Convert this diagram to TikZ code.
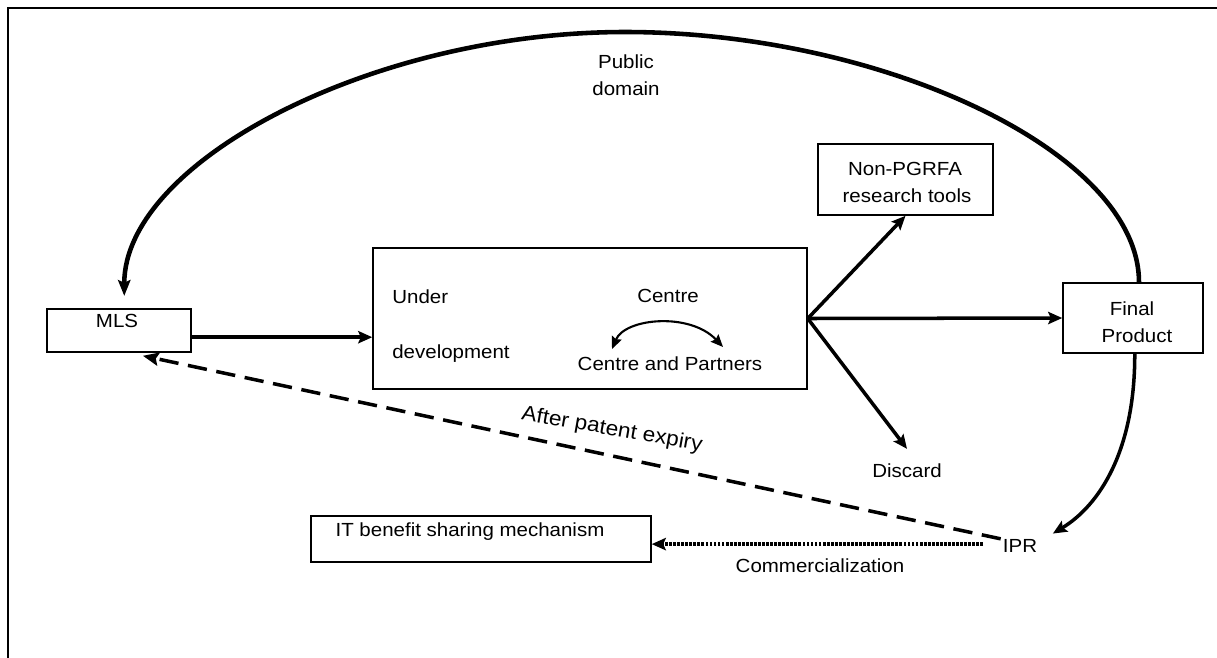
\documentclass[tikz,border=0pt]{standalone}
\usepackage{fontspec}
\setmainfont{Liberation Sans}[FakeStretch=1.08]
\usetikzlibrary{arrows.meta,calc}
\begin{document}
\begin{tikzpicture}[x=0.02cm,y=-0.02cm,
  every node/.style={font=\fontsize{10.8}{13}\selectfont},
  box/.style={draw,line width=0.9pt,inner sep=0pt},
  txt/.style={anchor=base,inner sep=0pt},
  tipbig/.style={-{Stealth[length=8pt,width=7pt,inset=1.5pt]}},
  solidarrow/.style={line width=2pt,tipbig},
  arcarrow/.style={line width=2.6pt,-{Stealth[length=9pt,width=7pt,inset=1.5pt]}},
  dasharrow/.style={line width=2pt,dash pattern=on 11pt off 5.5pt,-{Stealth[length=9pt,width=7.5pt,inset=1.5pt]}},
  dotarrow/.style={line width=2.2pt,dash pattern=on 1.6pt off 0.7pt,-{Stealth[length=8pt,width=7pt,inset=1.5pt]}},
  smallarrow/.style={line width=1.2pt,{Stealth[length=7pt,width=6pt,inset=1pt]}-{Stealth[length=7pt,width=6pt,inset=1pt]}}
]
\useasboundingbox (0,0) rectangle (1217,657);
% outer frame
\draw[line width=1pt] (8,670) -- (8,8) -- (1230,8);

% boxes
\node[box,minimum width=2.88cm,minimum height=0.86cm] (mls) at (119,330.5) {};
\node[box,minimum width=8.68cm,minimum height=2.82cm] (under) at (590,318.5) {};
\node[box,minimum width=3.5cm,minimum height=1.42cm] (npg) at (905.5,179.5) {};
\node[box,minimum width=2.8cm,minimum height=1.4cm] (fp) at (1133,318) {};
\node[box,minimum width=6.8cm,minimum height=0.92cm] (it) at (481,539) {};

% texts
\node[txt] (mlst) at (117,327) {MLS};
\node[txt,anchor=base west] (undert) at (392,303) {Under};
\node[txt,anchor=base west] (devt) at (392,358) {development};
\node[txt] (centret) at (668,302) {Centre};
\node[txt] (cpt) at (670,370) {Centre and Partners};
\node[txt] (npg1) at (905,175) {Non-PGRFA};
\node[txt] (npg2) at (907,202) {research tools};
\node[txt] (fp1) at (1132,315) {Final};
\node[txt] (fp2) at (1137,342) {Product};
\node[txt] (itt) at (470,536) {IT benefit sharing mechanism};
\node[txt] (ipr) at (1020,552) {IPR};
\node[txt] (comm) at (820,572) {Commercialization};
\node[txt] (discard) at (907,477) {Discard};
\node[txt] (pub1) at (626,68) {Public};
\node[txt] (pub2) at (626,95) {domain};
\node[rotate=-10,inner sep=0pt,font=\fontsize{11.9}{14}\selectfont] (after) at (612,430) {After patent expiry};

% MLS -> under development
\coordinate (mlsr) at ($(mls.north east)!0.65!(mls.south east)$);
\draw[solidarrow] (mlsr) -- (mlsr -| under.west);

% fan
\draw[solidarrow] (under.east) -- (npg.south);
\draw[solidarrow] (under.east) -- (fp.west);
\draw[solidarrow] (under.east) -- ([yshift=8pt]discard.north);

% Centre <-> Centre and Partners
\coordinate (cl) at (612,349);
\coordinate (cr) at (723,347);
\draw[smallarrow] (cl) .. controls (625,318) and (690,312) .. (cr);

% public domain arc
\coordinate (arcR) at ([xshift=3.4pt]fp.north);
\coordinate (arcT) at (625,32);
\coordinate (arcL) at ([xshift=3pt,yshift=7pt]mls.north);
\draw[arcarrow] (arcR) .. controls (1139,152) and (882,32) .. (arcT)
  .. controls (372,32) and (124,162) .. (arcL);

% Final product -> IPR
\draw[solidarrow] ([xshift=1pt]fp.south) .. controls (1135,450) and (1100,505) .. ([shift={(18.7pt,10.5pt)}]ipr.base);

% after patent expiry
\draw[dasharrow] ([shift={(-11pt,7.5pt)}]ipr.base) -- ([shift={(13.6pt,-1.7pt)}]mls.south);

% commercialization
\coordinate (cs) at ([shift={(-21pt,4.5pt)}]ipr.base);
\draw[dotarrow] (cs) -- (cs -| it.east);
\end{tikzpicture}
\end{document}
